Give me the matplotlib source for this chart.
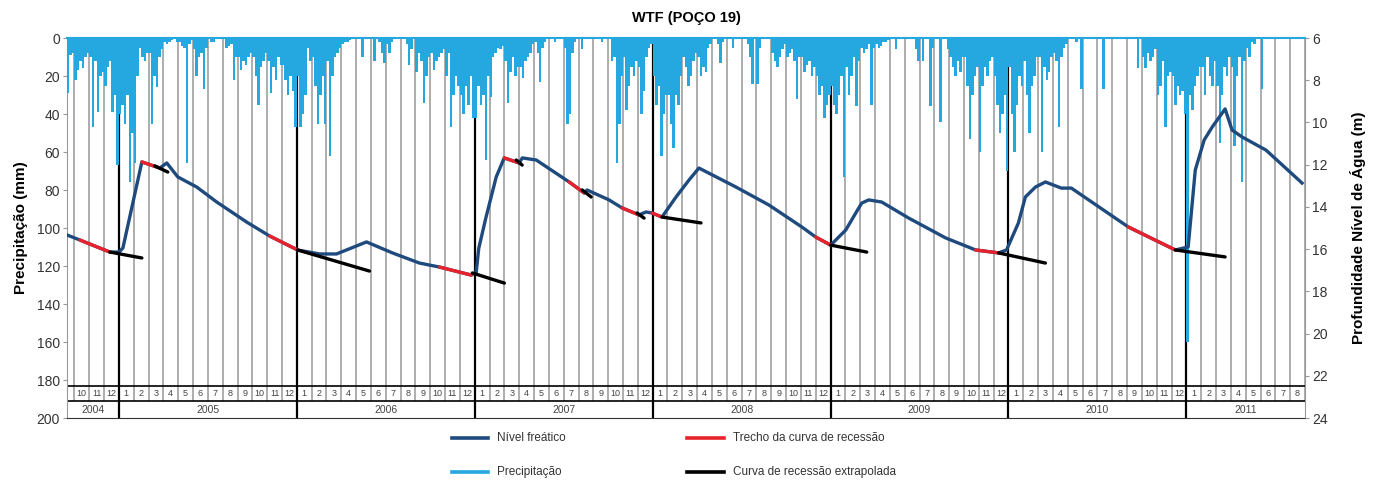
import matplotlib
matplotlib.use("Agg")
import matplotlib.pyplot as plt
import numpy as np
from matplotlib.lines import Line2D

plt.rcParams['font.family'] = ['Liberation Sans', 'DejaVu Sans']

# ---------------- data ----------------
# Precipitation (mm), 6 sub-month bars per month (approx. 5-day totals)
# 2004: Sep (second half only, 3 bars), Oct, Nov, Dec
precip_2004 = [[29, 9, 8],
               [22, 17, 12, 16, 10, 8],
               [10, 47, 12, 39, 20, 18],
               [25, 15, 12, 39, 30, 67]]
precip_2005 = [[40, 35, 45, 30, 76, 50], [66, 20, 5, 10, 12, 8], [8, 45, 20, 26, 10, 6],
               [2, 3, 2, 1, 0, 2], [2, 4, 5, 66, 3, 1], [6, 20, 10, 8, 27, 5],
               [0, 2, 2, 0, 0, 0], [0, 5, 4, 3, 22, 10], [10, 17, 12, 14, 10, 8],
               [10, 20, 35, 15, 12, 8], [12, 29, 15, 22, 10, 14], [14, 22, 30, 20, 28, 47]]
precip_2006 = [[20, 47, 40, 30, 5, 12], [10, 25, 45, 30, 20, 45], [12, 62, 20, 10, 8, 5],
               [3, 2, 2, 1, 0, 0], [0, 0, 10, 0, 0, 0], [0, 12, 0, 2, 8, 13],
               [3, 8, 2, 0, 0, 0], [0, 0, 3, 14, 6, 0], [18, 8, 12, 34, 20, 10],
               [8, 17, 12, 10, 8, 6], [20, 8, 47, 30, 20, 25], [30, 40, 25, 35, 20, 42]]
precip_2007 = [[42, 25, 35, 30, 64, 20], [31, 10, 8, 5, 6, 4], [12, 34, 18, 10, 20, 15],
               [15, 21, 12, 10, 8, 3], [2, 8, 23, 5, 2, 0], [0, 0, 2, 0, 0, 0],
               [5, 45, 40, 8, 2, 0], [0, 6, 0, 0, 0, 0], [0, 0, 0, 2, 0, 0],
               [0, 12, 10, 66, 45, 20], [10, 38, 25, 15, 20, 12], [15, 40, 28, 10, 5, 3]]
precip_2008 = [[20, 35, 25, 62, 40, 30], [30, 45, 58, 30, 35, 20], [10, 15, 25, 20, 12, 8],
               [10, 20, 15, 18, 5, 3], [0, 0, 3, 13, 2, 0], [0, 0, 5, 0, 0, 0],
               [0, 0, 3, 10, 24, 0], [24, 5, 0, 0, 0, 0], [8, 12, 15, 10, 6, 3],
               [10, 8, 6, 12, 32, 10], [10, 18, 14, 12, 20, 15], [20, 30, 25, 42, 35, 30]]
precip_2009 = [[25, 35, 40, 30, 20, 73], [15, 30, 20, 10, 36, 12], [5, 8, 6, 3, 35, 5],
               [3, 5, 4, 2, 2, 1], [0, 0, 6, 0, 0, 0], [0, 0, 0, 0, 6, 12],
               [0, 12, 0, 0, 36, 5], [0, 0, 44, 0, 0, 6], [10, 15, 20, 12, 18, 10],
               [10, 25, 53, 30, 20, 15], [60, 25, 15, 20, 12, 10], [20, 35, 50, 40, 30, 70]]
precip_2010 = [[15, 40, 60, 35, 20, 25], [12, 30, 50, 25, 20, 10], [10, 60, 15, 22, 18, 10],
               [8, 12, 47, 10, 5, 3], [0, 0, 0, 2, 0, 27], [0, 0, 0, 0, 0, 0],
               [0, 0, 27, 0, 0, 0], [0, 0, 0, 0, 0, 0], [0, 0, 0, 0, 16, 0],
               [10, 16, 8, 12, 10, 6], [30, 25, 12, 47, 20, 18], [20, 35, 25, 30, 28, 40]]
precip_2011 = [[160, 30, 38, 25, 20, 15], [15, 30, 10, 20, 25, 12], [25, 55, 30, 15, 20, 10],
               [15, 57, 20, 10, 76, 12], [5, 10, 2, 3, 0, 0], [27, 0, 0, 0, 0, 0],
               [0, 0, 0, 0, 0, 0], [0, 0, 0, 0, 0, 0]]

# Water table depth (m); time in months since Jan 2005
level_month = [-3.50, -2.63, -0.61, 0.00, 0.27, 1.55, 2.76, 3.23, 3.97, 5.25, 6.60, 8.62,
               10.17, 12.05, 13.54, 14.68, 16.70, 18.45, 20.27, 21.62, 23.77, 24.10, 24.27,
               24.74, 25.45, 25.99, 27.00, 27.21, 28.15, 30.37, 31.38, 31.58, 33.06, 33.94,
               35.08, 35.56, 35.96, 36.63, 37.58, 38.45, 39.12, 41.62, 43.84, 46.06, 47.00,
               48.01, 49.02, 49.70, 50.10, 50.57, 51.45, 53.27, 55.76, 57.78, 59.33, 59.87,
               60.67, 61.14, 61.82, 62.49, 63.57, 64.24, 68.08, 71.25, 72.12, 72.60, 73.20,
               73.74, 74.61, 75.08, 75.76, 77.37, 79.80]
level_depth = [15.33, 15.57, 16.14, 16.14, 15.95, 11.87, 12.16, 11.92, 12.58, 13.06, 13.77, 14.72,
               15.38, 16.04, 16.23, 16.23, 15.66, 16.18, 16.66, 16.85, 17.23, 17.10, 15.97,
               14.55, 12.58, 11.68, 11.92, 11.68, 11.78, 12.82, 13.34, 13.20, 13.67, 14.05,
               14.38, 14.24, 14.29, 14.48, 13.53, 12.73, 12.16, 13.06, 13.91, 14.95, 15.43,
               15.81, 15.10, 14.29, 13.82, 13.67, 13.77, 14.53, 15.47, 16.04, 16.18, 16.04,
               14.76, 13.53, 13.06, 12.82, 13.11, 13.11, 14.95, 16.04, 15.90, 12.25, 10.83,
               10.22, 9.36, 10.36, 10.69, 11.31, 12.87]

# Recession segments (month ranges on the water-table curve)
recession_start = [-2.63, 1.55, 10.17, 21.62, 25.99, 30.37, 33.94, 35.96, 47.00, 57.78, 68.08]
recession_end = [-0.61, 2.76, 12.05, 23.77, 27.00, 31.38, 35.08, 36.63, 48.01, 59.33, 71.25]

# Extrapolated recession curves: (month0, depth0, month1, depth1)
extrap_m0 = [-0.61, 2.42, 12.05, 23.84, 26.80, 31.25, 34.95, 36.63, 48.01, 59.33, 71.25]
extrap_d0 = [16.14, 12.06, 16.04, 17.13, 11.78, 13.20, 14.29, 14.48, 15.81, 16.18, 16.04]
extrap_m1 = [1.55, 3.30, 16.90, 26.00, 27.20, 31.85, 35.42, 39.26, 50.44, 62.49, 74.61]
extrap_d1 = [16.42, 12.35, 17.04, 17.61, 12.02, 13.53, 14.53, 14.76, 16.14, 16.66, 16.37]

years = [2004, 2005, 2006, 2007, 2008, 2009, 2010, 2011]

# ---------------- colours ----------------
C_PREC = '#25a8e0'
C_LEVEL = '#1f4a7e'
C_RED = '#e8222c'
C_GRID = '#a0a0a0'

W, H = 1373, 480
fig = plt.figure(figsize=(W / 100, H / 100), dpi=100)
L, R, T, B = 67, 1305, 38, 418
ax = fig.add_axes([L / W, 1 - B / H, (R - L) / W, (B - T) / H])
XMIN, XMAX = -3.5, 80.0
ax.set_xlim(XMIN, XMAX)
ax.set_ylim(200, 0)

# precipitation bars
px, pv = [], []
for j, v in enumerate(precip_2004[0]):
    px.append(-4 + 0.5 + (j + 0.5) / 6); pv.append(v)
for mi, month in enumerate(precip_2004[1:]):
    m = -3 + mi
    for j, v in enumerate(month):
        px.append(m + (j + 0.5) / 6); pv.append(v)
for yi, yl in enumerate([precip_2005, precip_2006, precip_2007, precip_2008,
                         precip_2009, precip_2010, precip_2011]):
    for mi, month in enumerate(yl):
        m = yi * 12 + mi
        for j, v in enumerate(month):
            px.append(m + (j + 0.5) / 6); pv.append(v)
ax.bar(px, pv, width=1 / 6, color=C_PREC, linewidth=0, zorder=3)

# month grid and year separators
for k in range(-3, 81):
    if k % 12 == 0 and k < 80:
        ax.plot([k, k], [0, 200], color='black', lw=1.6, zorder=2, solid_capstyle='butt')
    else:
        ax.plot([k, k], [0, 191], color=C_GRID, lw=1.2, zorder=1, solid_capstyle='butt')
ax.hlines([183.3, 191], XMIN, XMAX, color='black', lw=1.2, zorder=2)

# month labels
for k in range(-3, 80):
    ax.text(k + 0.5, 187.3, str(k % 12 + 1), ha='center', va='center',
            fontsize=6.5, color='#444444', zorder=4)
# year labels
ycent = [(XMIN + 0) / 2] + [(y - 2005) * 12 + 6 for y in years[1:-1]] + [(72 + XMAX) / 2]
for y, c in zip(years, ycent):
    ax.text(c, 195.6, str(y), ha='center', va='center', fontsize=7.5, color='#444444')

ax.set_xticks([])
ax.set_yticks(range(0, 201, 20))
ax.tick_params(axis='y', length=3, color='#999999', labelsize=10, labelcolor='#333333', pad=2)
for s in ['left', 'right']:
    ax.spines[s].set_color('#999999')
ax.spines['top'].set_color(C_PREC)
ax.spines['top'].set_linewidth(1.5)
ax.spines['bottom'].set_color('#333333')
ax.set_ylabel('Precipitação (mm)', fontweight='bold', fontsize=11, labelpad=6)

# water table
ax2 = ax.twinx()
ax2.set_ylim(24, 6)
ax2.set_yticks(range(6, 25, 2))
ax2.tick_params(axis='y', length=3, color='#999999', labelsize=10, labelcolor='#333333', pad=2)
for s in ax2.spines.values():
    s.set_visible(False)
ax2.set_ylabel('Profundidade Nível de Água (m)', fontweight='bold', fontsize=11, labelpad=16)

lm = np.array(level_month); ld = np.array(level_depth)
ax2.plot(lm, ld, color=C_LEVEL, lw=2.4, zorder=4, solid_joinstyle='round')
for a, b in zip(recession_start, recession_end):
    msk = (lm >= a - 1e-6) & (lm <= b + 1e-6)
    ax2.plot(lm[msk], ld[msk], color=C_RED, lw=2.4, zorder=5, solid_capstyle='round')
for m0, d0, m1, d1 in zip(extrap_m0, extrap_d0, extrap_m1, extrap_d1):
    ax2.plot([m0, m1], [d0, d1], color='black', lw=2.4, zorder=6, solid_capstyle='round')

# title
fig.text((L + R) / 2 / W, 1 - 18 / H, 'WTF (POÇO 19)', ha='center', va='center',
         fontweight='bold', fontsize=10.5)

# legend (manual)
def leg(x0, x1, y, color, label):
    fig.add_artist(Line2D([x0 / W, x1 / W], [1 - y / H, 1 - y / H], color=color, lw=2.6))
    fig.text((x1 + 9) / W, 1 - y / H, label, ha='left', va='center', fontsize=8.5, color='#333333')

leg(452, 488, 438, C_LEVEL, 'Nível freático')
leg(452, 488, 472, C_PREC, 'Precipitação')
leg(687, 724, 438, C_RED, 'Trecho da curva de recessão')
leg(687, 724, 472, 'black', 'Curva de recessão extrapolada')

fig.savefig('out.png', dpi=100)
